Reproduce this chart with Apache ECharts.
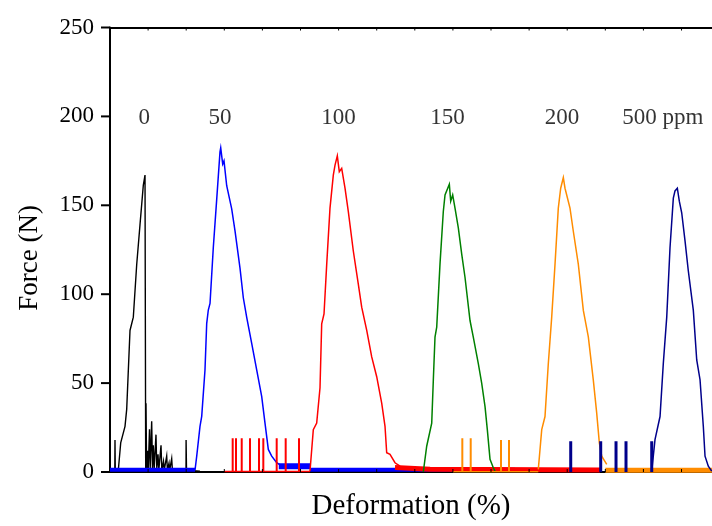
<!DOCTYPE html>
<html>
<head>
<meta charset="utf-8">
<script src="https://cdn.jsdelivr.net/npm/echarts@6/dist/echarts.min.js"></script>
<style>
html, body { margin: 0; padding: 0; background: #ffffff; }
#chart { width: 712px; height: 526px; }
</style>
</head>
<body>
<div id="chart"></div>
<script>
// Compression traces of foam samples at increasing additive loadings.
// x: deformation (arbitrary %, tick every 10), y: force in N.

const sampleNames = ['0', '50', '100', '150', '200', '500 ppm'];
const sampleLabelX = [9.0, 28.9, 60.0, 88.6, 118.6, 145.1]; // label centres (deformation units)
const sampleLabelY = 199;                                    // label height (N)

const yTicks = [0, 50, 100, 150, 200, 250];
const xTicks = [10, 20, 30, 40, 50, 60, 70, 80, 90, 100, 110, 120, 130, 140, 150];

// --- 0 ppm (black): brittle failure followed by a decaying train of spikes
const trace0 = [
  [0, 0.5], [1.26, 0.5], [1.31, 18], [1.39, 0.5], [2.18, 1], [2.81, 16.4], [3.94, 25.7],
  [4.38, 35.2], [5.25, 79.6], [6.12, 87.1], [7.01, 116.7], [7.87, 139], [8.74, 161.2],
  [9.19, 167], [9.37, 1], [9.45, 38.7], [9.61, 1], [9.84, 12], [10.03, 1], [10.37, 24],
  [10.55, 2], [10.94, 28.5], [11.15, 2], [11.36, 15], [11.6, 2], [12.07, 21], [12.28, 2],
  [12.6, 10], [12.81, 1], [13.39, 15], [13.6, 1], [14.04, 6], [14.23, 1], [14.88, 9],
  [15.07, 1], [15.49, 5], [15.67, 1], [16.19, 7.5], [16.38, 1], [19.95, 1], [19.97, 18],
  [20.08, 1], [23.6, 0.5]
];

// --- 50 ppm (blue)
const trace50 = [
  [22.31, 1], [22.76, 8.9], [23.62, 25.7], [24.07, 31.3], [24.93, 57.4], [25.38, 83.5],
  [25.8, 91.1], [26.25, 94.8], [27.11, 126.1], [28.01, 153.5], [28.87, 180], [29.06, 182.3],
  [29.58, 173.2], [29.92, 175], [30.63, 161], [31.05, 162], [31.94, 148], [32.81, 135.6],
  [34.12, 114.7], [34.99, 98], [35.88, 87], [37.19, 72.3], [38.5, 57.4], [39.82, 42.4],
  [40.68, 27.5], [41.55, 12.7], [42.44, 8.9], [43.75, 5.2], [44.62, 4]
];
const band50Start = [[0, 1.3], [22.31, 1.3]];
const band50Plateau = [[44.3, 3.3], [52.5, 3.3]];
const band50Tail = [[52.5, 1.3], [106.3, 1.3]];

// --- 100 ppm (red)
const base100 = [[29.92, 0.3], [52.49, 0.3]];
const spikes100 = [32.2, 33.07, 34.57, 36.75, 39.11, 40.24, 43.75, 46.11, 49.61];
const spikeHeights100 = [19, 19, 19, 19, 19, 19, 19, 19, 19];
const trace100 = [
  [52.49, 0.5], [53.36, 23.8], [54.25, 27.5], [55.12, 47.4], [55.56, 83.3], [56.17, 88.9],
  [56.88, 116.9], [57.74, 148.4], [58.61, 167], [59.06, 172.6], [59.66, 177.8], [60.18, 168.9],
  [60.81, 170.8], [61.68, 159.6], [62.55, 146.5], [63.86, 124.3], [65.17, 105.7], [66.06, 92.7],
  [67.38, 79.7], [68.69, 64.7], [70.0, 53.6], [71.31, 38.7], [72.18, 25.7], [72.62, 10.8],
  [73.49, 9.9], [74.8, 5.2], [76.12, 3.3]
];
const band100 = [[74.8, 2.5], [84, 1.6], [128.6, 1.1]];

// --- 150 ppm (green)
const trace150 = [
  [82.23, 0], [83.12, 14.5], [84.44, 27.5], [84.86, 51.7], [85.3, 75.9], [85.75, 81.5],
  [86.61, 116.9], [87.48, 146.5], [87.93, 155.8], [89.06, 161.8], [89.42, 152.3], [89.94, 155.8],
  [90.55, 148.4], [91.42, 137.3], [92.31, 122.5], [93.18, 109.4], [94.49, 85.2], [95.35, 75.9],
  [96.67, 61], [97.56, 49.9], [98.43, 36.8], [99.03, 23.8], [99.74, 7.1], [100.6, 2.4], [101.05, 0.5]
];

// --- 200 ppm (orange)
const base200 = [[90.03, 0.2], [112.41, 0.2]];
const spikes200 = [92.47, 94.67, 102.62, 104.72];
const spikeHeights200 = [19, 19, 18, 18];
const trace200 = [
  [112.41, 1.5], [113.31, 23.8], [114.17, 31.2], [115.04, 61], [115.93, 87.1], [116.8, 116.9],
  [117.66, 148.4], [118.29, 159.6], [118.98, 165.6], [119.42, 159.6], [119.87, 160.5], [120.73, 148.4],
  [121.6, 135.4], [122.91, 116.9], [124.23, 90.9], [125.54, 76], [126.85, 51.7], [127.74, 33.1],
  [128.43, 16.4], [129.06, 8.9], [130.37, 4.3]
];
const band200 = [[130.0, 1.0], [158, 1.0]];

// --- 500 ppm (navy)
const spikes500 = [120.92, 128.79, 132.81, 135.43, 142.18];
const spikeHeights500 = [17.3, 17.3, 17.3, 17.3, 17.3];
const trace500 = [
  [142.18, 0.5], [143.04, 18.2], [144.36, 31.2], [145.22, 61], [146.12, 87.1], [146.98, 126.1],
  [147.85, 154], [148.29, 158.1], [148.9, 159.6], [149.42, 152.3], [150.05, 145.8], [150.92, 130],
  [151.78, 113.2], [153.1, 90.9], [153.99, 63], [154.86, 51.9], [155.72, 25.7], [156.17, 8.9],
  [157.03, 3.3], [157.92, 0.5]
];

// vertical spike segments from the baseline, separated by gaps
function spikeSegments(xs, hs) {
  const out = [];
  xs.forEach((x, i) => { out.push([x, 0], [x, hs[i]], null); });
  return out;
}

const C0 = '#000000', C50 = '#0000ff', C100 = '#ff0000', C150 = '#008000', C200 = '#ff8c00', C500 = '#00008b';

function line(data, color, width, z) {
  return {
    type: 'line', data: data, showSymbol: false, symbol: 'none', silent: true,
    animation: false, connectNulls: false, z: z || 2,
    lineStyle: { color: color, width: width, join: 'miter' }
  };
}

const serif = '"Liberation Serif", "Times New Roman", serif';

const chart = echarts.init(document.getElementById('chart'), null, { renderer: 'canvas' });

const xAxisBase = {
  type: 'value', min: 0, max: 158, interval: 10,
  axisLine: { show: true, onZero: false, lineStyle: { color: '#000', width: 2 } },
  axisTick: { show: false },
  axisLabel: { show: false },
  splitLine: { show: false }
};

chart.setOption({
  backgroundColor: '#ffffff',
  animation: false,
  grid: { left: 110, right: 0, top: 27.5, bottom: 50, containLabel: false },
  xAxis: [
    Object.assign({}, xAxisBase, {
      position: 'bottom',
      name: 'Deformation (%)', nameLocation: 'middle', nameGap: 20,
      nameTextStyle: { fontFamily: serif, fontSize: 29, color: '#000', verticalAlign: 'top' }
    }),
    Object.assign({}, xAxisBase, { position: 'top' })
  ],
  yAxis: {
    type: 'value', min: 0, max: 250, interval: 50,
    axisLine: { show: true, onZero: false, lineStyle: { color: '#000', width: 2 } },
    axisTick: { show: false },
    axisLabel: {
      margin: 16, fontFamily: serif, fontSize: 23, color: '#000',
      formatter: v => (yTicks.indexOf(v) >= 0 ? String(v) : '')
    },
    splitLine: { show: false }
  },
  series: [
    line(trace0, C0, 1.4, 2),
    line(band50Start, C50, 4, 3),
    line(trace50, C50, 1.5, 3),
    line(band50Plateau, C50, 6, 3),
    line(band50Tail, C50, 4, 3),
    line(base100, C100, 1.5, 4),
    line(spikeSegments(spikes100, spikeHeights100), C100, 2, 4),
    line(trace100, C100, 1.5, 4),
    line(band100, C100, 5, 4),
    line(trace150, C150, 1.5, 5),
    line(base200, C200, 1.5, 6),
    line(spikeSegments(spikes200, spikeHeights200), C200, 2, 6),
    line(trace200, C200, 1.5, 6),
    line(band200, C200, 5, 6),
    line(spikeSegments(spikes500, spikeHeights500), C500, 3, 7),
    line(trace500, C500, 1.5, 7),
    {
      // sample labels above each peak
      type: 'scatter', silent: true, animation: false, symbolSize: 0, z: 8,
      data: sampleNames.map((n, i) => ({ value: [sampleLabelX[i], sampleLabelY], name: n })),
      label: {
        show: true, position: 'inside', formatter: p => p.name,
        fontFamily: serif, fontSize: 23, color: '#000'
      }
    }
  ]
});

// Tick marks and the rotated y title, placed through the grid's scale.
const toPx = (x, y) => chart.convertToPixel({ xAxisIndex: 0, yAxisIndex: 0 }, [x, y]);
const deco = [];
yTicks.forEach(v => {
  const p = toPx(0, v);
  deco.push({ type: 'line', z: 100, shape: { x1: p[0] - 9, y1: p[1], x2: p[0], y2: p[1] },
              style: { stroke: '#000', lineWidth: 2 } });
});
xTicks.forEach(v => {
  const b = toPx(v, 0), t = toPx(v, 250);
  deco.push({ type: 'line', z: 100, shape: { x1: b[0], y1: b[1], x2: b[0], y2: b[1] - 3 },
              style: { stroke: '#000', lineWidth: 1 } });
  deco.push({ type: 'line', z: 100, shape: { x1: t[0], y1: t[1], x2: t[0], y2: t[1] + 3 },
              style: { stroke: '#000', lineWidth: 1 } });
});
deco.push({
  type: 'text', z: 100, left: 16, top: 205, rotation: Math.PI / 2,
  style: { text: 'Force (N)', font: '27px ' + serif, fill: '#000' }
});
chart.setOption({ graphic: { elements: deco } });
</script>
</body>
</html>
